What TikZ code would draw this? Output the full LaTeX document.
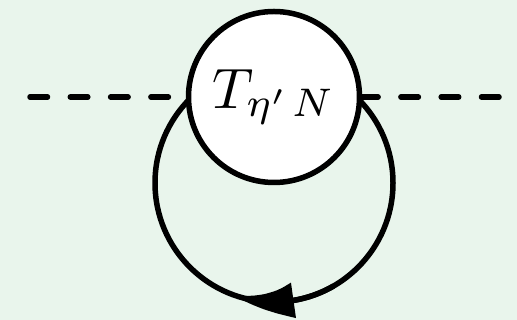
\documentclass[tikz,border=0pt]{standalone}
\usetikzlibrary{arrows.meta,bending,calc}
\definecolor{bgc}{RGB}{233,245,236}
\begin{document}
\begin{tikzpicture}[x=1pt,y=1pt,
  thickline/.style={line width=5.5pt,black},
  dashline/.style={thickline,line cap=round,dash pattern=on 17.5pt off 22.8pt},
  tnode/.style={circle,thickline,draw,fill=white,minimum size=171pt,inner sep=0pt}]
\fill[bgc] (0,0) rectangle (517,320);
\useasboundingbox (0,0) rectangle (517,320);
\coordinate (C) at (274,137);
\coordinate (L) at (30,223);
\coordinate (R) at (499,223);
% loop
\draw[thickline] (C) circle[radius=119pt];
\draw[thickline,-{Latex[length=64pt,width=36pt,bend]}] ($(C)+(300:119)$) arc[start angle=300,end angle=249,radius=119pt];
% vertex
\node[tnode] (T) at (274,223) {\scalebox{5.7}{$T_{\eta'\mkern2mu N}$}};
\draw[dashline] (L) -- (T);
\draw[dashline] (R) -- (T);
\end{tikzpicture}
\end{document}
